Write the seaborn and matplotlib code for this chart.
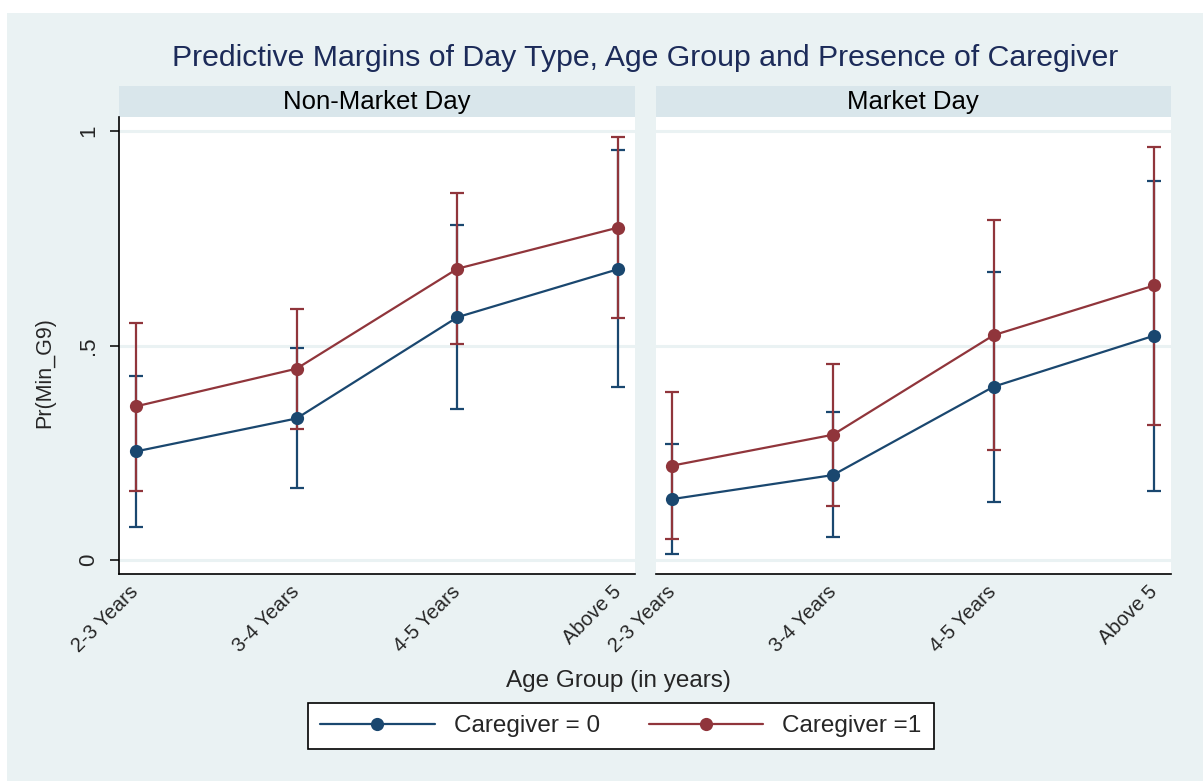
import numpy as np
import pandas as pd
import matplotlib
matplotlib.use("Agg")
import matplotlib.pyplot as plt
import seaborn as sns
from matplotlib.patches import Rectangle
from matplotlib.lines import Line2D

# ---------------- data ----------------
age_groups = ["2-3 Years", "3-4 Years", "4-5 Years", "Above 5"]
day_types = ["Non-Market Day", "Market Day"]
caregiver_labels = ["Caregiver = 0", "Caregiver =1"]

nonmarket_cg0 = [0.253, 0.330, 0.566, 0.678]
nonmarket_cg0_lo = [0.078, 0.167, 0.352, 0.403]
nonmarket_cg0_hi = [0.428, 0.495, 0.782, 0.956]
nonmarket_cg1 = [0.358, 0.446, 0.679, 0.775]
nonmarket_cg1_lo = [0.162, 0.306, 0.504, 0.564]
nonmarket_cg1_hi = [0.553, 0.586, 0.855, 0.986]

market_cg0 = [0.142, 0.198, 0.404, 0.523]
market_cg0_lo = [0.015, 0.054, 0.135, 0.162]
market_cg0_hi = [0.271, 0.344, 0.672, 0.884]
market_cg1 = [0.220, 0.292, 0.524, 0.640]
market_cg1_lo = [0.048, 0.127, 0.256, 0.315]
market_cg1_hi = [0.391, 0.458, 0.792, 0.963]

y_ticks = [0, 0.5, 1]
y_ticklabels = ["0", ".5", "1"]

series = {
    ("Non-Market Day", "Caregiver = 0"): (nonmarket_cg0, nonmarket_cg0_lo, nonmarket_cg0_hi),
    ("Non-Market Day", "Caregiver =1"): (nonmarket_cg1, nonmarket_cg1_lo, nonmarket_cg1_hi),
    ("Market Day", "Caregiver = 0"): (market_cg0, market_cg0_lo, market_cg0_hi),
    ("Market Day", "Caregiver =1"): (market_cg1, market_cg1_lo, market_cg1_hi),
}
rows = []
for (day, cg), (m, lo, hi) in series.items():
    for i, ag in enumerate(age_groups):
        rows.append(dict(day=day, caregiver=cg, age=ag, pos=i, margin=m[i], lo=lo[i], hi=hi[i]))
df = pd.DataFrame(rows)

# ---------------- style ----------------
sns.set_style("white")
plt.rcParams["font.family"] = ["Liberation Sans", "DejaVu Sans"]

BG = "#EAF2F3"
STRIP = "#D9E6EB"
palette = {"Caregiver = 0": "#1a476f", "Caregiver =1": "#90353b"}

W, H = 1203, 781
fig = plt.figure(figsize=(W / 100, H / 100), dpi=100)
fig.patch.set_facecolor("white")
fig.add_artist(Rectangle((7 / W, 0), 1, 1 - 13 / H, transform=fig.transFigure,
                         facecolor=BG, edgecolor="none", zorder=-10))

ax_top, ax_bot = 117, 574
panel_x = [(119, 635), (655.5, 1171)]
axes = []
for k, (x0, x1) in enumerate(panel_x):
    ax = fig.add_axes([x0 / W, 1 - ax_bot / H, (x1 - x0) / W, (ax_bot - ax_top) / H],
                      sharey=axes[0] if axes else None)
    axes.append(ax)

for ax, day in zip(axes, day_types):
    ax.set_facecolor("white")
    sub = df[df.day == day]
    for cg in caregiver_labels:
        s = sub[sub.caregiver == cg]
        ax.errorbar(s.pos, s.margin, yerr=[s.margin - s.lo, s.hi - s.margin], fmt="none",
                    ecolor=palette[cg], elinewidth=1.6, capsize=4.8, capthick=1.6, zorder=2)
    sns.lineplot(data=sub, x="pos", y="margin", hue="caregiver", hue_order=caregiver_labels,
                 palette=palette, marker="o", markersize=9.5, markeredgewidth=0,
                 linewidth=1.6, ax=ax, legend=False, zorder=3)
    ax.set_xlim(-0.104, 3.104)
    ax.set_ylim(-0.0326, 1.0326)
    ax.set_xticks(range(len(age_groups)))
    ax.set_xticklabels(age_groups, rotation=45, ha="right", va="center",
                       rotation_mode="anchor", fontsize=14.5)
    ax.tick_params(axis="x", length=6.5, width=1.1, color="black", pad=4)
    ax.set_xlabel("")
    ax.set_ylabel("")
    ax.set_yticks(y_ticks)
    ax.grid(axis="y", color=BG, linewidth=2.2)
    ax.grid(axis="x", visible=False)
    ax.set_axisbelow(True)
    for sp in ["top", "right"]:
        ax.spines[sp].set_visible(False)
    ax.spines["bottom"].set_color("black")
    ax.spines["bottom"].set_linewidth(1.2)
    # strip
    sh = 31 / (ax_bot - ax_top)
    ax.add_patch(Rectangle((0, 1), 1, sh, transform=ax.transAxes, clip_on=False,
                           facecolor=STRIP, edgecolor="none"))
    ax.text(0.5, 1 + sh / 2, day, transform=ax.transAxes, ha="center", va="center",
            fontsize=18.5, color="black")

axes[0].set_yticklabels(y_ticklabels, rotation=90, va="center", fontsize=16)
axes[0].tick_params(axis="y", length=6.5, width=1.1, color="black", pad=8, left=True)
axes[0].spines["left"].set_color("black")
axes[0].spines["left"].set_linewidth(1.2)
axes[1].spines["left"].set_visible(False)
axes[1].tick_params(axis="y", left=False, labelleft=False)

fig.text(645 / W, 1 - 58 / H, "Predictive Margins of Day Type, Age Group and Presence of Caregiver",
         ha="center", va="center", fontsize=21.8, color="#1c2b59")
fig.text(618 / W, 1 - 681 / H, "Age Group (in years)", ha="center", va="center", fontsize=17.5)
fig.text(45 / W, 1 - 373 / H, "Pr(Min_G9)", ha="center", va="center", rotation=90, fontsize=15.5)

handles = [Line2D([], [], color=palette[c], marker="o", markersize=9.5, markeredgewidth=0,
                  linewidth=1.6) for c in caregiver_labels]
leg = fig.legend(handles, caregiver_labels, loc="center", bbox_to_anchor=(621 / W, 1 - 726 / H),
                 ncol=2, frameon=True, fancybox=False, framealpha=1, edgecolor="black",
                 fontsize=17.5, handlelength=4.7, handletextpad=0.8, columnspacing=2.0,
                 borderpad=0.5)
leg.get_frame().set_linewidth(1.2)

fig.savefig("out.png", dpi=100, facecolor=fig.get_facecolor())
